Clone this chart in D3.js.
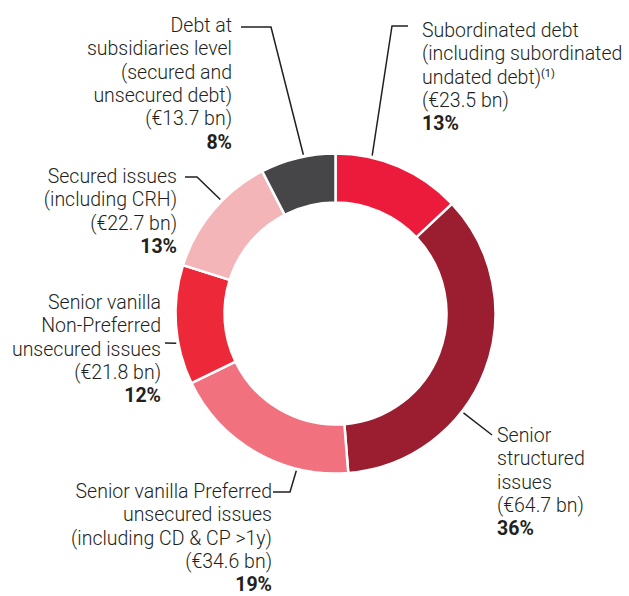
<!DOCTYPE html>
<html>
<head>
<meta charset="utf-8">
<script src="https://cdn.jsdelivr.net/npm/d3@7"></script>
<style>
  body { margin: 0; background: #fff; }
  text { font-family: Roboto, "Liberation Sans", sans-serif; font-weight: 300; fill: #231f20; }
  .pct { font-weight: 700; }
</style>
</head>
<body>
<div id="canvas"></div>
<script>
// data, clockwise from 12 o'clock
var categories = ['Subordinated debt', 'Senior structured issues', 'Senior vanilla Preferred unsecured issues',
  'Senior vanilla Non-Preferred unsecured issues', 'Secured issues', 'Debt at subsidiaries level'];
var amounts = [23.5, 64.7, 34.6, 21.8, 22.7, 13.7];
var amountLabels = ['(€23.5 bn)', '(€64.7 bn)', '(€34.6 bn)', '(€21.8 bn)', '(€22.7 bn)', '(€13.7 bn)'];
var shares = ['13%', '36%', '19%', '12%', '13%', '8%'];
var nameLines = [
  ['Subordinated debt', '(including subordinated', 'undated debt)'],
  ['Senior', 'structured', 'issues'],
  ['Senior vanilla Preferred', 'unsecured issues', '(including CD & CP >1y)'],
  ['Senior vanilla', 'Non-Preferred', 'unsecured issues'],
  ['Secured issues', '(including CRH)'],
  ['Debt at', 'subsidiaries level', '(secured and', 'unsecured debt)']
];
var colors = ['#ed1b3b', '#9a1e2f', '#f2717e', '#ed2939', '#f4b5b8', '#464648'];

var W = 629, H = 596;
var cx = 335.5, cy = 313.5, R = 160, r = 111;
var lh = 23.3;

// label layout: text anchor point, leader points and where on the slice the leader hits
var labelLayout = [
  {x: 422, y: 37, anchor: 'start', leader: [[408, 26], [392, 26]], t: 0.28},
  {x: 497, y: 442, anchor: 'start', leader: [[492, 435]], t: 0.63},
  {x: 272, y: 498, anchor: 'end', leader: [[273, 492], [290, 492]], t: 0.27},
  {x: 161, y: 309, anchor: 'end', leader: [[165, 343]], t: 0.35},
  {x: 177, y: 183, anchor: 'end', leader: [[185, 177], [197, 177]], t: 0.6},
  {x: 232, y: 32, anchor: 'end', leader: [[241, 27], [271, 27]], t: 0.58}
];

var svg = d3.select('#canvas').append('svg')
  .attr('width', W).attr('height', H);

var pie = d3.pie().sort(null).value(function(d){ return d; });
var arcs = pie(amounts);
var arc = d3.arc().innerRadius(r).outerRadius(R);

var g = svg.append('g').attr('transform', 'translate(' + cx + ',' + cy + ')');
g.selectAll('path.slice')
  .data(arcs)
  .enter().append('path')
  .attr('class', 'slice')
  .attr('d', arc)
  .attr('fill', function(d, i){ return colors[i]; })
  .attr('stroke', '#fff')
  .attr('stroke-width', 2.5)
  .attr('stroke-linejoin', 'miter');

// leaders
var line = d3.line();
arcs.forEach(function(d, i){
  var L = labelLayout[i];
  var a = d.startAngle + L.t * (d.endAngle - d.startAngle);
  var end = [cx + (R + 2) * Math.sin(a), cy - (R + 2) * Math.cos(a)];
  svg.append('path')
    .attr('d', line(L.leader.concat([end])))
    .attr('fill', 'none')
    .attr('stroke', '#231f20')
    .attr('stroke-width', 1.5);
});

// labels
categories.forEach(function(c, i){
  var L = labelLayout[i];
  var lines = nameLines[i].concat([amountLabels[i], shares[i]]);
  var t = svg.append('text')
    .attr('x', L.x).attr('y', L.y)
    .attr('text-anchor', L.anchor)
    .style('font-size', '19.5px');
  lines.forEach(function(s, k){
    var ts = t.append('tspan')
      .attr('x', L.x)
      .attr('y', L.y + k * lh)
      .text(s);
    if (k == lines.length - 1) ts.attr('class', 'pct');
    if (i == 0 && k == 2) {
      t.append('tspan').attr('dy', -7).style('font-size', '11px').style('font-weight', 400).text('(1)');
    }
  });
});
</script>
</body>
</html>
